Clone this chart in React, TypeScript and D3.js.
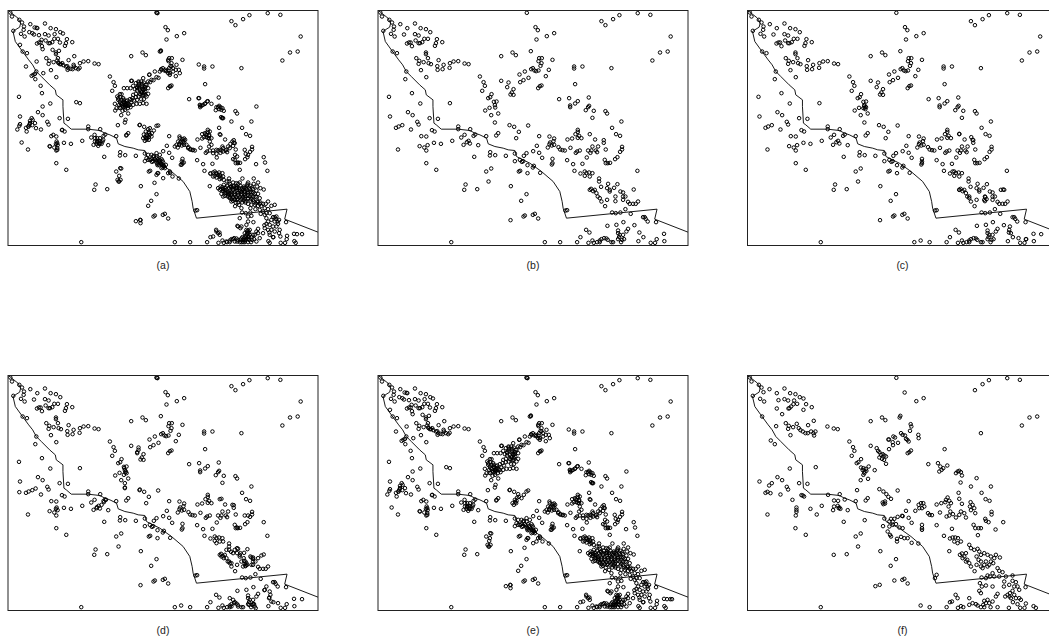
import React from "react";
import * as d3 from "d3";

type Pt = [number, number];

// map units (x east, y south)
const coast: Pt[] = [[24,32],[29,35],[54,55],[62,70],[59,82],[46,90],[39,95],[46,125],[64,150],[86,180],[98,195],[109,215],[124,230],[149,255],[166,270],[169,285],[189,300],[189,320],[192,370],[199,375],[214,388],[264,388],[300,392],[315,400],[330,405],[350,415],[355,432],[375,440],[400,445],[415,450],[435,452],[440,470],[455,478],[480,490],[515,515],[550,545],[570,575],[577,605],[580,625],[590,655],[862,628],[855,658],[955,697]];

const shared: Pt[] = [[31,38],[36,50],[58,60],[66,68],[72,80],[71,90],[40,93],[63,102],[74,110],[91,73],[112,85],[102,104],[135,71],[152,85],[168,88],[181,97],[135,103],[146,107],[174,117],[201,118],[217,127],[198,130],[195,138],[137,122],[163,117],[157,127],[150,130],[146,130],[122,128],[117,128],[111,131],[126,139],[68,155],[81,160],[168,158],[168,163],[174,175],[139,175],[148,183],[161,187],[146,192],[176,190],[183,193],[206,181],[251,185],[265,184],[284,191],[296,193],[240,190],[221,195],[202,199],[218,208],[203,210],[239,204],[153,211],[109,215],[106,238],[169,232],[126,280],[57,291],[151,311],[240,310],[114,337],[128,346],[60,350],[179,355],[204,357],[142,366],[146,374],[97,376],[86,380],[78,384],[123,389],[186,391],[194,395],[265,380],[265,388],[301,388],[154,409],[169,410],[274,413],[284,405],[316,404],[311,408],[349,409],[247,423],[192,429],[213,432],[149,439],[163,443],[173,436],[84,449],[169,452],[281,435],[291,427],[296,423],[300,431],[325,436],[169,490],[199,510],[313,471],[361,457],[360,467],[376,466],[408,468],[349,515],[364,506],[356,545],[287,554],[283,570],[322,568],[423,559],[470,583],[454,603],[465,647],[461,650],[489,645],[495,642],[505,656],[422,661],[244,727],[525,727],[571,727],
[330,230],[341,247],[345,258],[337,273],[394,243],[416,248],[412,262],[431,268],[426,278],[422,284],[431,285],[365,283],[361,292],[355,295],[380,305],[372,306],[375,316],[376,323],[359,324],[346,332],[385,341],[364,346],[375,368],[419,376],[433,381],[447,396],[475,377],[385,400],[379,407],[439,415],[394,169],[428,158],[438,166],[483,154],[449,224],[465,215],[451,247],[461,241],[476,234],[484,208],[489,205],[494,212],[499,214],[506,212],[512,198],[515,190],[506,184],[516,175],[508,175],[548,180],[537,210],[528,229],[515,257],[510,259],[505,265],[497,82],[504,91],[500,119],[531,109],[553,100],[471,39],
[695,64],[707,76],[730,58],[749,46],[804,40],[842,45],[903,110],[871,158],[894,155],[848,182],[725,205],[613,200],[613,206],[638,200],[616,253],[568,298],[598,295],[624,304],[616,311],[601,317],[601,322],[657,293],[658,318],[655,322],[648,331],[672,333],[707,334],[712,341],[668,354],[755,365],[727,384],[739,403],[751,408],
[508,409],[539,410],[553,416],[551,424],[541,428],[539,433],[553,435],[546,437],[534,443],[501,438],[490,454],[508,459],[517,474],[566,442],[571,449],[578,451],[585,452],[602,444],[593,419],[607,416],[624,390],[624,396],[617,403],[628,408],[635,415],[624,414],[660,403],[676,419],[702,421],[702,429],[685,440],[668,440],[665,452],[655,452],[678,452],[682,457],[662,459],[708,449],[630,452],[622,455],[618,459],[651,473],[757,441],[757,449],[751,456],[743,472],[736,478],[705,480],[708,490],[714,490],[721,489],[592,481],[610,493],[638,492],[548,477],[548,490],[546,494],[614,513],[803,513],
[435,461],[462,468],[470,460],[435,484],[450,480],[456,486],[460,484],[473,496],[451,513],[447,515],[489,503],[492,498],[473,520],[511,519],
[632,521],[645,515],[650,520],[658,518],[668,520],[645,528],[660,530],[688,536],[688,545],[694,561],[715,552],[743,553],[712,565],[720,570],[733,564],[660,570],[664,567],[670,574],[675,570],[680,580],[684,590],[690,595],[695,605],[712,600],[737,590],[737,604],[720,575],[752,575],[760,578],[767,590],[792,569],[760,590],[760,600],[775,606],[780,612],[790,612],[798,612],[805,605],[767,628],[706,619],[727,638],[738,640],[752,638],[783,642],
[592,631],[587,632],[820,652],[825,652],[828,657],[834,665],[859,667],[794,676],[761,667],[740,675],[713,678],[775,687],[770,695],[745,692],[745,700],[750,705],[760,705],[748,712],[649,690],[659,698],[632,712],[622,727],[656,729],[668,722],[672,729],[682,727],[690,722],[695,718],[703,715],[710,716],[714,720],[690,727],[725,727],[730,727],[745,718],[757,720],[763,718],[754,727],[809,698],[821,712],[806,724],[843,729],[856,729],[861,718],[883,702],[884,724]];

// extras only in the dense panels (a) and (e)
const denseExtras: Pt[] = [[60,135],[104,83],[110,84],[88,97],[97,100],[117,106],[189,101],[180,128],[164,103],[125,120],[128,148],[158,150],[177,153],[223,169],[172,182],[175,188],[180,193],[187,190],[190,196],[198,200],[205,205],[212,207],[222,200],[228,205],[235,208],[110,185],[78,200],[100,225],[95,228],[105,222],[130,220],[122,258],[229,307],[128,320],[60,373],[58,378],[52,389],[80,395],[85,380],[90,370],[95,355],[90,363],[98,360],[88,375],[105,370],[108,385],[65,428],[160,405],[170,425],[168,432],[172,430],[172,445],[150,440],[172,450],[187,390],
[285,415],[292,415],[300,415],[310,420],[285,425],[292,425],[300,425],[308,425],[290,432],[298,432],[305,432],[295,438],[361,505],[353,540],[358,545],[362,540],[358,528],[445,618],[408,664],[421,660],[422,670],[464,549],[354,376],[377,360],[380,405],
[483,152],[480,155],[485,210],[510,220],[520,215],[528,210],[540,220],[530,195],[505,180],[515,200],[508,205],[512,260],[470,38],[473,40],
[345,312],[350,325],[355,300],[352,290],[360,305],[365,300],[370,295],[358,315],[366,312],[374,308],[382,302],[390,298],[362,325],[370,322],[378,318],[386,312],[394,308],[402,302],[368,333],[376,330],[384,325],[392,322],[400,315],[410,312],[420,312],[430,310],[440,312],[398,295],[408,292],[416,290],[424,298],[432,298],[440,290],[445,282],[436,275],[445,265],[440,255],[432,248],[424,245],[416,245],[408,250],[396,243],[400,258],[392,265],[382,265],[372,265],[416,258],[426,258],[436,262],[420,270],[430,270],[412,272],[420,282],[428,286],[408,282],[400,285],[360,283],[405,268],[448,225],[455,240],[470,232],[480,215],[497,210],[505,220],[510,225],[520,205],[430,235],[445,245],
[445,465],[455,465],[460,470],[470,470],[480,465],[440,475],[445,480],[455,478],[465,478],[475,478],[485,478],[470,488],[480,488],[490,488],[478,496],[488,496],[498,495],[495,505],[485,505],[475,520],[470,525],[490,535],[505,520],[518,530],[537,536],[510,515],
[632,521],[640,518],[650,522],[660,525],[670,530],[640,530],[650,533],[660,538],[672,540],[682,545],[690,552],[700,548],[710,550],[720,548],[728,536],[745,548],[762,536],[775,548],[630,559],
[655,565],[662,560],[672,555],[682,558],[692,560],[702,558],[712,560],[722,558],[732,560],[742,558],[752,558],[762,552],[772,560],[782,565],
[670,568],[680,570],[690,572],[700,570],[710,572],[730,570],[740,570],[750,568],[760,568],[770,572],
[665,582],[675,580],[685,582],[695,582],[705,582],[715,580],[725,582],[735,582],[745,580],[755,578],[765,582],[775,582],
[690,592],[700,592],[710,592],[720,592],[730,592],[750,590],[770,592],[780,595],
[700,603],[722,602],[732,602],[752,602],[762,605],[772,605],[782,608],
[718,615],[745,612],[755,615],[765,615],[775,618],[785,618],[795,625],[805,628],[815,618],[825,615],
[752,625],[780,630],[790,635],[800,640],[810,640],[830,650],[838,660],
[795,645],[800,655],[805,665],[815,660],[825,665],[835,672],[800,672],[810,675],[820,680],[830,680],[840,690],[815,690],[825,695],[805,690],[795,685],[810,705],[820,712],
[725,625],[720,655],[725,680],[715,680],[722,685],[745,650],[755,648],[745,665],
[740,690],[750,690],[735,700],[742,702],[728,712],[735,712],[745,712],[755,712],[722,720],[730,720],[738,720],[748,720],[720,727],[735,727],[745,727],[700,718],[705,725],[712,725],[680,725],[650,695],[655,700],[660,705],[640,710],[765,705],[775,700],[780,715],[770,725],[838,700],[842,710],[862,708],[892,703],[907,703],[888,729],[810,729],[790,700],
[596,295],[600,315],[605,318],[610,315],[615,312],[622,305],[635,312],[662,322],[668,325],[650,322],[658,328],[665,330],[667,355],[664,352],[670,355],[597,194],[770,320],[695,365],[658,384],[662,405],
[607,403],[615,400],[630,395],[620,405],[628,405],[612,412],[620,412],[628,415],[630,425],[635,435],[628,440],[640,452],[640,460],[650,462],[670,455],[680,450],[690,445],[700,438],[698,425],[705,430],[660,450],[670,445],[692,432],[650,450],
[700,478],[715,488],[720,510],[706,465],[712,470],[735,450],[738,462],[745,465],[792,472],[796,488],[769,493],
[540,415],[548,418],[556,420],[535,425],[545,425],[553,428],[530,435],[538,435],[525,440],[560,435],[565,445],[572,448],[580,450],[543,495],[552,488],[546,485],
[668,562],[678,563],[688,565],[698,564],[708,565],[718,564],[728,565],[738,564],[748,563],[758,563],[675,575],[685,576],[695,577],[705,576],[725,576],[735,576],[745,575],[670,590],[675,588],[685,587],[695,587],[705,587],[715,586],[725,587],[735,587],[745,586],[755,585],[695,598],[705,598],[715,597],[725,597],[735,597],[745,598],[755,597],[708,608],[727,608],[737,608],[768,610],[742,695],[748,698],[738,707],[732,716],[725,716],[740,716],[735,722],[374,316],[368,318],[362,310],[378,312],[372,300],[382,310],[390,315],[412,265],[428,265],[435,268],[424,275],[432,280],[418,252],[427,252],[437,255],[468,482],[478,483],[488,483],[473,492],[483,492],[493,500],[655,525],[665,535]];

// fill the holes of the big blobs in (a)
const aOnly: Pt[] = [[365,315],[375,312],[385,318],[395,300],[418,265],[425,278],[437,285],[412,300],[432,404],[440,405],[448,400],[456,400],[430,415],[447,412],[455,410],[435,423],[440,420],[447,420],[420,375],[438,395],[445,388],[450,385],[470,378],[462,392],[700,560],[710,565],[725,575],[690,580],[705,600],[715,608],[745,595],[735,575],[480,480],[470,475],[485,492],[443,408],[436,412],[442,414],[450,405]];

const eOnly: Pt[] = [[435,405],[442,398],[428,415],[436,412],[462,390],[470,380],[455,400],[420,375],[445,388],[432,420],[440,408],[500,530],[360,520],[902,703]];

const cExtras: Pt[] = [[375,318],[372,325],[380,322],[378,328],[548,485],[696,412],[700,420],[690,590],[640,515],[660,570],[738,592],[735,600],[742,598],[812,680],[810,690],[815,700],[838,715],[860,718],[906,703],[795,570],[785,570],[544,722],[660,402]];

const dExtras: Pt[] = [[58,382],[107,371],[170,428],[168,432],[290,430],[305,420],[312,412],[318,405],[416,255],[412,265],[420,374],[375,355],[375,370],[665,402],[712,488],[698,420],[792,472],[735,452],[745,452],[665,575],[672,580],[688,590],[695,595],[740,595],[730,605],[742,600],[725,590],[732,580],[705,555],[712,550],[722,565],[700,565],[688,555],[680,555],[650,535],[670,530],[755,578],[760,582],[775,580],[785,572],[755,600],[800,665],[795,675],[810,680],[812,690],[808,700],[815,710],[835,715],[907,703],[748,720],[760,718],[765,725],[768,730],[700,705],[705,712],[690,700],[695,725],[715,725],[373,310],[378,320],[372,330],[380,325],[544,722],[473,40],[470,38],[735,597],[738,602],[733,588]];

const fPoints: Pt[] = [[31,38],[36,50],[58,60],[66,68],[72,82],[40,93],[62,102],[74,110],[90,73],[112,85],[117,106],[135,71],[135,103],[146,107],[152,85],[168,88],[181,97],[192,101],[164,107],[173,117],[200,118],[217,127],[162,118],[155,125],[150,130],[147,131],[112,131],[192,135],[128,148],[68,155],[223,168],[172,177],[110,184],[139,175],[148,183],[161,187],[146,192],[178,190],[183,196],[190,200],[198,205],[205,205],[215,200],[222,205],[228,200],[224,212],[206,181],[264,185],[283,191],[295,193],[153,211],[94,227],[106,238],[229,307],[151,311],[114,337],[128,346],[60,350],[97,355],[89,362],[179,355],[204,357],[142,366],[146,374],[84,381],[78,384],[93,385],[123,389],[186,391],[190,392],[194,395],[159,405],[266,390],[301,388],[284,407],[296,408],[316,404],[349,409],[247,423],[213,432],[171,428],[171,435],[171,441],[169,452],[84,449],[232,449],[284,425],[281,436],[295,423],[298,430],[303,432],[300,428],[325,436],[313,471],[376,466],[168,490],[199,510],[349,515],[364,506],[356,545],[283,570],[322,568],[423,559],[470,583],[454,603],[465,647],[489,645],[495,642],[505,656],[408,664],[421,660],[244,727],[544,722],[571,727],
[330,230],[341,247],[345,258],[337,273],[394,243],[412,250],[416,258],[420,262],[425,270],[430,268],[435,272],[440,275],[420,278],[428,282],[434,285],[440,297],[365,283],[357,292],[352,295],[365,308],[372,310],[380,312],[388,305],[406,316],[375,320],[370,316],[375,325],[372,330],[381,318],[364,346],[386,342],[353,376],[420,373],[432,380],[441,388],[447,396],[455,402],[475,377],[385,400],[379,407],[437,410],[430,413],[432,418],[437,416],[394,169],[428,158],[438,166],[483,153],[481,158],[449,224],[447,224],[462,215],[467,218],[460,232],[461,241],[449,253],[476,234],[485,205],[490,210],[497,212],[504,225],[508,230],[500,222],[512,198],[516,185],[514,178],[537,210],[538,220],[515,257],[510,262],[505,265],[496,83],[531,109],[553,100],[471,39],
[707,76],[730,58],[749,46],[804,40],[842,45],[871,158],[894,155],[848,182],[725,205],[616,253],[567,298],[596,295],[603,305],[624,302],[612,310],[607,315],[600,320],[655,320],[650,325],[660,318],[665,322],[668,332],[712,340],[664,353],[695,365],[755,365],[658,384],[727,384],[660,402],[739,403],[751,408],
[508,409],[538,420],[545,415],[552,415],[555,425],[548,430],[540,430],[528,438],[500,438],[490,454],[508,459],[517,474],[566,445],[571,450],[578,451],[602,443],[592,419],[606,415],[620,405],[625,398],[630,408],[618,412],[635,415],[628,425],[633,440],[622,455],[630,452],[641,448],[650,458],[660,450],[665,440],[675,445],[680,458],[694,412],[700,420],[692,425],[705,430],[708,445],[695,436],[668,417],[757,441],[757,449],[738,462],[748,472],[740,468],[792,472],[769,494],[703,480],[708,490],[718,490],[725,490],[716,511],[592,481],[638,492],[548,480],[548,490],[548,495],[614,513],
[435,461],[431,484],[455,462],[465,462],[475,456],[488,453],[450,470],[460,470],[470,478],[480,488],[490,490],[460,480],[450,485],[445,500],[452,510],[455,515],[473,522],[485,516],[495,520],[473,530],[517,534],[537,536],[505,520],
[632,521],[640,518],[648,518],[656,520],[665,530],[645,530],[655,535],[690,540],[695,550],[705,555],[715,552],[630,559],[662,570],[668,566],[675,575],[680,565],[684,585],[690,595],[695,605],[670,580],[680,590],[720,560],[725,570],[735,565],[745,570],[712,575],[718,585],[725,590],[735,600],[745,605],[730,610],[755,590],[765,580],[770,570],[782,578],[762,595],[750,600],[740,590],[755,575],[712,600],[725,605],[706,619],[775,610],[780,618],[790,622],[760,625],[745,632],[727,638],[740,640],[752,635],[765,635],[780,635],[800,635],[820,632],
[592,630],[587,640],[795,650],[820,648],[830,652],[810,660],[825,665],[835,665],[840,675],[820,678],[812,685],[825,690],[805,690],[798,695],[815,700],[830,700],[840,700],[845,705],[811,695],[859,667],[794,665],[760,665],[740,662],[722,655],[728,665],[720,678],[725,685],[775,687],[770,695],[745,705],[735,708],[740,715],[732,720],[725,727],[750,715],[760,710],[690,700],[649,690],[655,700],[632,712],[638,710],[622,727],[656,729],[665,724],[672,727],[690,720],[700,715],[710,718],[715,722],[735,727],[754,727],[775,727],[809,729],[821,712],[835,718],[860,716],[843,729],[856,729],[883,724],[890,729]];

const panelLabels = ["(a)", "(b)", "(c)", "(d)", "(e)", "(f)"];
const panelPoints: Pt[][] = [
  [...shared, ...denseExtras, ...aOnly],
  shared,
  [...shared, ...cExtras],
  [...shared, ...dExtras],
  [...shared, ...denseExtras, ...eOnly],
  fPoints,
];

const width = 1049;
const height = 637;
const panelW = 310;
const panelH = 235;
const lefts = [8, 378, 747.5];
const tops = [10.5, 375.5];

const x = d3.scaleLinear().domain([24, 955]).range([0, panelW]);
const y = d3.scaleLinear().domain([32, 737]).range([0, panelH]);
const coastPath = d3.line<Pt>().x((d) => x(d[0])).y((d) => y(d[1]))(coast) as string;

const App = () => (
  <svg
    width={width}
    height={height}
    style={{ position: "absolute", left: 0, top: 0, display: "block", background: "#fff" }}
  >
    {panelPoints.map((points, i) => (
      <g key={i} transform={`translate(${lefts[i % 3]},${tops[Math.floor(i / 3)]})`}>
        <path d={coastPath} fill="none" stroke="#000" strokeWidth={0.9} />
        {points.map((d, j) => (
          <circle key={j} cx={x(d[0])} cy={y(d[1])} r={1.75} fill="none" stroke="#000" strokeWidth={1} />
        ))}
        <rect width={panelW} height={panelH} fill="none" stroke="#222" strokeWidth={1} />
        <text
          x={panelW / 2}
          y={258}
          textAnchor="middle"
          fontFamily="'Liberation Sans', Arial, sans-serif"
          fontSize={10.5}
          fill="#222"
        >
          {panelLabels[i]}
        </text>
      </g>
    ))}
  </svg>
);

export default App;
